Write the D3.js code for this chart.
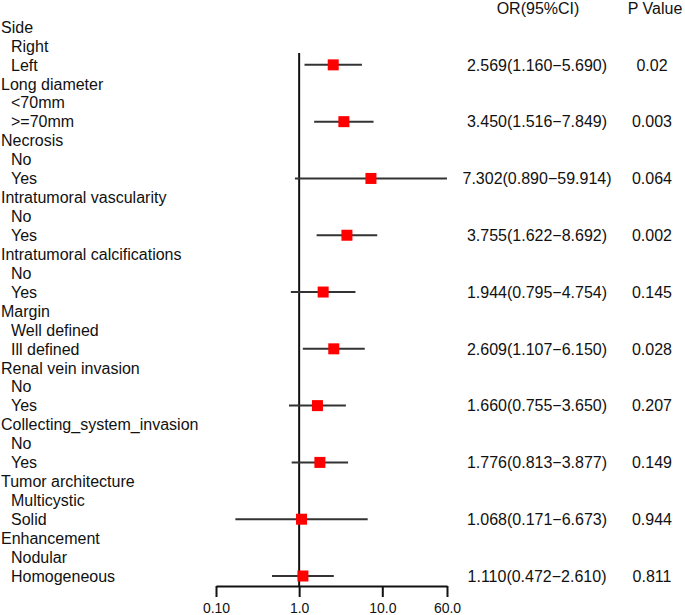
<!DOCTYPE html>
<html>
<head>
<meta charset="utf-8">
<script src="https://cdn.jsdelivr.net/npm/d3@7"></script>
<style>
  html, body { margin: 0; padding: 0; background: #fff; }
  svg { display: block; font-family: "Liberation Sans", Arial, sans-serif; }
</style>
</head>
<body>
<svg id="chart" width="685" height="615"></svg>
<script>
// ---- data ----
const variables = ["Side", "Long diameter", "Necrosis", "Intratumoral vascularity",
  "Intratumoral calcifications", "Margin", "Renal vein invasion",
  "Collecting_system_invasion", "Tumor architecture", "Enhancement"];
const refLevels = ["Right", "<70mm", "No", "No", "No", "Well defined", "No", "No", "Multicystic", "Nodular"];
const cmpLevels = ["Left", ">=70mm", "Yes", "Yes", "Yes", "Ill defined", "Yes", "Yes", "Solid", "Homogeneous"];
const orValues = [2.569, 3.450, 7.302, 3.755, 1.944, 2.609, 1.660, 1.776, 1.068, 1.110];
const ciLower = [1.160, 1.516, 0.890, 1.622, 0.795, 1.107, 0.755, 0.813, 0.171, 0.472];
const ciUpper = [5.690, 7.849, 59.914, 8.692, 4.754, 6.150, 3.650, 3.877, 6.673, 2.610];
const pValues = ["0.02", "0.003", "0.064", "0.002", "0.145", "0.028", "0.207", "0.149", "0.944", "0.811"];
const tickValues = [0.1, 1, 10, 60];
const tickLabels = ["0.10", "1.0", "10.0", "60.0"];
const headers = ["OR(95%CI)", "P Value"];

// ---- build rows ----
const rows = [];
variables.forEach((v, k) => {
  rows.push({ label: v, indent: false });
  rows.push({ label: refLevels[k], indent: true });
  rows.push({ label: cmpLevels[k], indent: true, or: orValues[k], lo: ciLower[k], hi: ciUpper[k], p: pValues[k] });
});

const svg = d3.select("#chart");
const y = d3.scaleLinear().domain([0, rows.length - 1]).range([27, 576]);
const x = d3.scaleLog().domain([0.1, 60]).range([216, 447]);
const fmt = d3.format(".3f");
const textColor = "#111";

// labels
svg.append("g").selectAll("text").data(rows).join("text")
  .attr("x", d => d.indent ? 11 : 1)
  .attr("y", (d, i) => y(i))
  .attr("dy", "0.36em")
  .attr("font-size", 16)
  .attr("fill", textColor)
  .text(d => d.label);

// headers
svg.append("text").attr("x", 538).attr("y", y(-1)).attr("dy", "0.36em")
  .attr("text-anchor", "middle").attr("font-size", 16).attr("fill", textColor).text(headers[0]);
svg.append("text").attr("x", 655).attr("y", y(-1)).attr("dy", "0.36em")
  .attr("text-anchor", "middle").attr("font-size", 16).attr("fill", textColor).text(headers[1]);

const est = rows.map((d, i) => Object.assign({ i }, d)).filter(d => d.or !== undefined);

// reference line at OR = 1
svg.append("line")
  .attr("x1", x(1)).attr("x2", x(1))
  .attr("y1", 53).attr("y2", 586)
  .attr("stroke", "#111").attr("stroke-width", 2);

// CI lines
svg.append("g").selectAll("line").data(est).join("line")
  .attr("x1", d => x(d.lo)).attr("x2", d => x(d.hi))
  .attr("y1", d => y(d.i)).attr("y2", d => y(d.i))
  .attr("stroke", "#333").attr("stroke-width", 2);

// points
const sq = 11;
svg.append("g").selectAll("rect").data(est).join("rect")
  .attr("x", d => x(d.or) - sq / 2).attr("y", d => y(d.i) - sq / 2)
  .attr("width", sq).attr("height", sq)
  .attr("fill", "#ff0000");

// OR text and p values
svg.append("g").selectAll("text").data(est).join("text")
  .attr("x", 537).attr("y", d => y(d.i)).attr("dy", "0.36em")
  .attr("text-anchor", "middle").attr("font-size", 16).attr("fill", textColor)
  .text(d => `${fmt(d.or)}(${fmt(d.lo)}\u2212${fmt(d.hi)})`);
svg.append("g").selectAll("text").data(est).join("text")
  .attr("x", 652).attr("y", d => y(d.i)).attr("dy", "0.36em")
  .attr("text-anchor", "middle").attr("font-size", 16).attr("fill", textColor)
  .text(d => d.p);

// axis
const axis = d3.axisBottom(x)
  .tickValues(tickValues)
  .tickFormat((d, i) => tickLabels[i])
  .tickSize(11).tickSizeOuter(0).tickPadding(6);
const ag = svg.append("g").attr("transform", "translate(0,586)").call(axis);
ag.select(".domain").attr("stroke", "#111").attr("stroke-width", 2);
ag.selectAll(".tick line").attr("stroke", "#111").attr("stroke-width", 2);
ag.selectAll(".tick text").attr("font-size", 14).attr("fill", textColor)
  .attr("font-family", "\"Liberation Sans\", Arial, sans-serif");
</script>
</body>
</html>
